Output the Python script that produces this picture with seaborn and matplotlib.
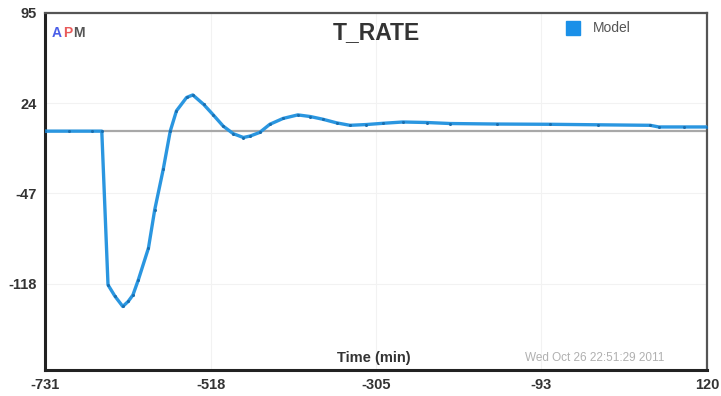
import matplotlib
matplotlib.use("Agg")
import matplotlib.pyplot as plt
import seaborn as sns
import pandas as pd

# Data
time_min = [-731, -700, -670, -658, -650, -641, -631, -624, -618, -611, -598, -590,
            -579, -570, -562, -549, -541, -527, -515, -502, -489, -476, -467, -455,
            -442, -425, -406, -390, -374, -356, -339, -318, -296, -271, -240, -210,
            -150, -82, -20, 47, 58, 90, 120]
t_rate = [2, 2, 2, 2, -119, -128, -136, -132, -127, -115, -90, -60,
          -28, 2, 18, 28.5, 30.5, 23, 15, 6, 0, -3, -1.8, 1,
          7.4, 12, 14.8, 13.5, 11.4, 8.5, 6.6, 7.2, 8.2, 9.2, 8.8, 8,
          7.6, 7.4, 7.0, 6.6, 5.3, 5.3, 5.3]
setpoint = 2
x_ticks = [-731, -518, -305, -93, 120]
y_ticks = [95, 24, -47, -118]

df = pd.DataFrame({"Time (min)": time_min, "T_RATE": t_rate})

sns.set_theme(style="white")
plt.rcParams['font.family'] = ['Liberation Sans', 'DejaVu Sans']

fig = plt.figure(figsize=(7.21, 3.96), dpi=100)
ax = fig.add_axes([45/721, 1-370/396, (707-45)/721, (370-13)/396])

for xt in x_ticks:
    ax.axvline(xt, color="#f2f2f2", lw=0.8, zorder=0)
for yt in y_ticks:
    ax.axhline(yt, color="#f2f2f2", lw=0.8, zorder=0)

ax.axhline(setpoint, color="#a8a8a8", lw=1.6, zorder=1)

sns.lineplot(data=df, x="Time (min)", y="T_RATE", ax=ax, color="#2a96e0",
             lw=2.4, marker="o", markersize=2.2, markeredgewidth=0,
             markerfacecolor="#1a6fb0", legend=False, zorder=3)

ax.set_xlim(-731, 120)
ax.set_ylim(-186, 95)
ax.set_xticks(x_ticks)
ax.set_yticks(y_ticks)
ax.set_xticklabels([str(v) for v in x_ticks], fontsize=10.5, fontweight="bold", color="#333333")
ax.set_yticklabels([str(v) for v in y_ticks], fontsize=10.5, fontweight="bold", color="#333333")
ax.tick_params(axis="both", direction="in", length=3, color="#333333", pad=6)
ax.set_xlabel("")
ax.set_ylabel("")

for side in ["left", "bottom"]:
    ax.spines[side].set_linewidth(2.2)
    ax.spines[side].set_color("#222222")
for side in ["top", "right"]:
    ax.spines[side].set_linewidth(1.6)
    ax.spines[side].set_color("#555555")

# Title and annotations
ax.text(0.50, 0.945, "T_RATE", transform=ax.transAxes, ha="center", va="center",
        fontsize=16.5, fontweight="bold", color="#333333")
ax.text(0.010, 0.945, "A", transform=ax.transAxes, ha="left", va="center",
        fontsize=10, fontweight="bold", color="#4a5ee8")
ax.text(0.027, 0.945, "P", transform=ax.transAxes, ha="left", va="center",
        fontsize=10, fontweight="bold", color="#e85a5a")
ax.text(0.043, 0.945, "M", transform=ax.transAxes, ha="left", va="center",
        fontsize=10, fontweight="bold", color="#555555")

# Legend
ax.plot([0.798], [0.958], transform=ax.transAxes, marker="s", markersize=10,
        color="#1a90e8", linestyle="none")
ax.text(0.828, 0.958, "Model", transform=ax.transAxes, ha="left", va="center",
        fontsize=10, color="#555555")

ax.text(0.497, 0.035, "Time (min)", transform=ax.transAxes, ha="center", va="center",
        fontsize=10.5, fontweight="bold", color="#333333")
ax.text(0.83, 0.033, "Wed Oct 26 22:51:29 2011", transform=ax.transAxes, ha="center",
        va="center", fontsize=8.5, color="#b0b0b0")

fig.savefig("out.png", dpi=100)
